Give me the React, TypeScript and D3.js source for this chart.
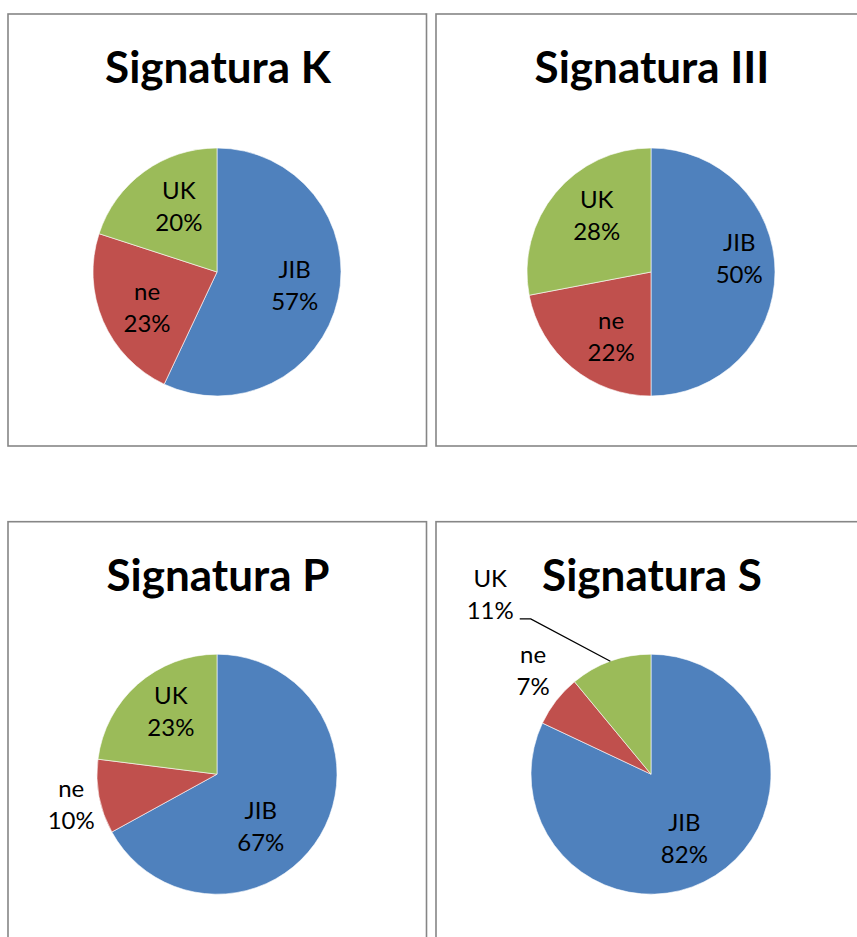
import React from "react";
import * as d3 from "d3";

const categories = ["JIB", "ne", "UK"];
const titles = ["Signatura K", "Signatura III", "Signatura P", "Signatura S"];
const valuesK = [57, 23, 20];
const valuesIII = [50, 22, 28];
const valuesP = [67, 10, 23];
const valuesS = [82, 7, 11];
const seriesValues = [valuesK, valuesIII, valuesP, valuesS];

const colors = ["#4F81BD", "#C0504D", "#9BBB59"];

// label placement per chart: radial factor (of radius) and angle (degrees, clockwise from top)
type Place = { k: number; angle: number; leader?: boolean };
const placements: Place[][] = [
  [{ k: 0.636, angle: 100 }, { k: 0.633, angle: 243 }, { k: 0.615, angle: 330 }],
  [{ k: 0.72, angle: 81.3 }, { k: 0.61, angle: 211.8 }, { k: 0.63, angle: 316 }],
  [{ k: 0.57, angle: 140.2 }, { k: 1.24, angle: 258.4 }, { k: 0.65, angle: 323.7 }],
  [{ k: 0.6, angle: 152.4 }, { k: 1.31, angle: 311.4 }, { k: 2.01, angle: 318.2, leader: true }],
];

const W = 857;
const H = 937;
const boxes = [
  { x: 8, y: 14, w: 418.5, h: 432, r: 124, cxOff: 209, cyOff: 258 },
  { x: 436, y: 14, w: 430, h: 432, r: 124, cxOff: 215, cyOff: 258 },
  { x: 8, y: 521.7, w: 418.5, h: 440, r: 120, cxOff: 209, cyOff: 252.5 },
  { x: 436, y: 521.7, w: 430, h: 440, r: 120, cxOff: 215, cyOff: 252.5 },
];

const FONT = "Lato, 'Noto Sans', sans-serif";
const LABEL_FS = 24;
const LINE = 32;

function Chart({ idx }: { idx: number }) {
  const box = boxes[idx];
  const vals = seriesValues[idx];
  const total = d3.sum(vals);
  const cx = box.x + box.cxOff;
  const cy = box.y + box.cyOff;
  const r = box.r;
  const pie = d3.pie<number>().sort(null).value((d) => d);
  const arcs = pie(vals);
  const arc = d3.arc<d3.PieArcDatum<number>>().innerRadius(0).outerRadius(r);
  const fmt = d3.format(".0%");

  return (
    <g>
      <rect x={box.x} y={box.y} width={box.w} height={box.h} fill="#fff" stroke="#868686" strokeWidth={1.6} />
      <text
        x={cx + 1}
        y={box.y + 69}
        textAnchor="middle"
        fontFamily={FONT}
        fontWeight={700}
        fontSize={44}
        fill="#000"
      >
        {titles[idx]}
      </text>
      <g transform={`translate(${cx},${cy})`}>
        {arcs.map((a, i) => (
          <path key={i} d={arc(a) || ""} fill={colors[i]} stroke="#fff" strokeWidth={0.6} />
        ))}
        {arcs.map((a, i) => {
          const p = placements[idx][i];
          const mid = (a.startAngle + a.endAngle) / 2;
          const ang = (p.angle * Math.PI) / 180;
          const lx = Math.sin(ang) * r * p.k;
          const ly = -Math.cos(ang) * r * p.k;
          const pct = fmt(a.data / total);
          let leader = null;
          if (p.leader) {
            const x1 = lx + 29.5;
            const y1 = ly + 24.5;
            const x2 = x1 + 11;
            const ex = Math.sin(mid) * r;
            const ey = -Math.cos(mid) * r;
            leader = (
              <polyline
                points={`${x1},${y1} ${x2},${y1} ${ex},${ey}`}
                fill="none"
                stroke="#000"
                strokeWidth={1.3}
              />
            );
          }
          return (
            <g key={"l" + i}>
              {leader}
              <text
                x={lx}
                y={ly - LINE / 2 + LABEL_FS * 0.36}
                textAnchor="middle"
                fontFamily={FONT}
                fontSize={LABEL_FS}
                fill="#000"
              >
                {categories[i]}
              </text>
              <text
                x={lx}
                y={ly + LINE / 2 + LABEL_FS * 0.36}
                textAnchor="middle"
                fontFamily={FONT}
                fontSize={LABEL_FS}
                fill="#000"
              >
                {pct}
              </text>
            </g>
          );
        })}
      </g>
    </g>
  );
}

export default function App() {
  return (
    <svg
      width={W}
      height={H}
      viewBox={`0 0 ${W} ${H}`}
      style={{ position: "absolute", left: 0, top: 0, background: "#fff" }}
    >
      <rect x={0} y={0} width={W} height={H} fill="#fff" />
      {[0, 1, 2, 3].map((i) => (
        <Chart key={i} idx={i} />
      ))}
    </svg>
  );
}
